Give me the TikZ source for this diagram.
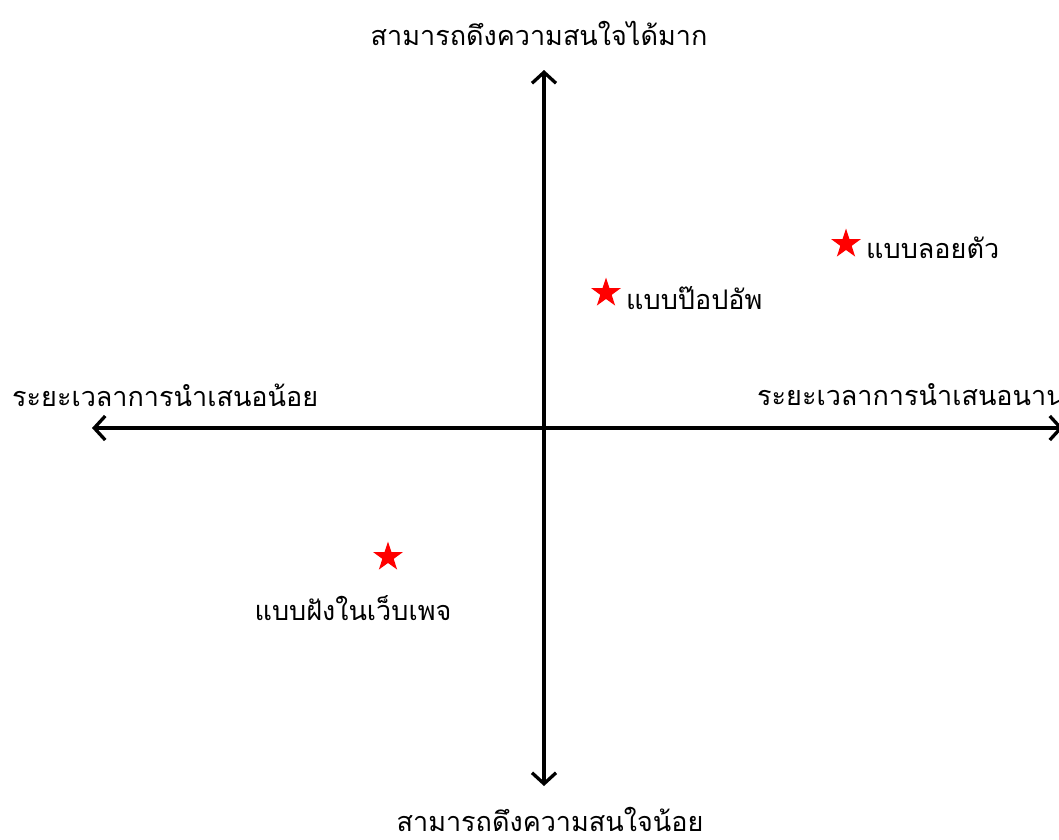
\documentclass[tikz,border=0pt]{standalone}
\usepackage{fontspec}
\newfontfamily\thaifont[Script=Thai]{Loma}
\usetikzlibrary{arrows.meta,shapes.geometric}
\begin{document}
\begin{tikzpicture}[x=1pt,y=-1pt,
  axis/.style={line width=3.3pt,{Straight Barb[length=11pt,width=24pt,line width=3.3pt]}-{Straight Barb[length=11pt,width=24pt,line width=3.3pt]}},
  lbl/.style={font=\thaifont\fontsize{27}{32}\selectfont,inner sep=0pt},
  starmark/.style={star,star points=5,star point ratio=2.6,fill=red,draw=none,minimum size=31pt,inner sep=0pt}]
\useasboundingbox (0,0) rectangle (1059,839);
\coordinate (L) at (92,428);
\coordinate (R) at (1063,428);
\coordinate (T) at (544,70);
\coordinate (B) at (544,786);
\draw[axis] (L) -- (R);
\draw[axis] (T) -- (B);
\node[lbl] (top) at (539,33) {สามารถดึงความสนใจได้มาก};
\node[lbl] (bot) at (550,819) {สามารถดึงความสนใจน้อย};
\node[lbl,anchor=west] (left) at (12,395) {ระยะเวลาการนำเสนอน้อย};
\node[lbl,anchor=west] (right) at (757,395) {ระยะเวลาการนำเสนอนาน};
\node[starmark] (s1) at (606,293) {};
\node[lbl,anchor=west] (t1) at (626,298) {แบบป๊อปอัพ};
\node[starmark] (s2) at (846,244) {};
\node[lbl,anchor=west] (t2) at (866,248) {แบบลอยตัว};
\node[starmark] (s3) at (388,557) {};
\node[lbl] (t3) at (353,608) {แบบฝังในเว็บเพจ};
\end{tikzpicture}
\end{document}
